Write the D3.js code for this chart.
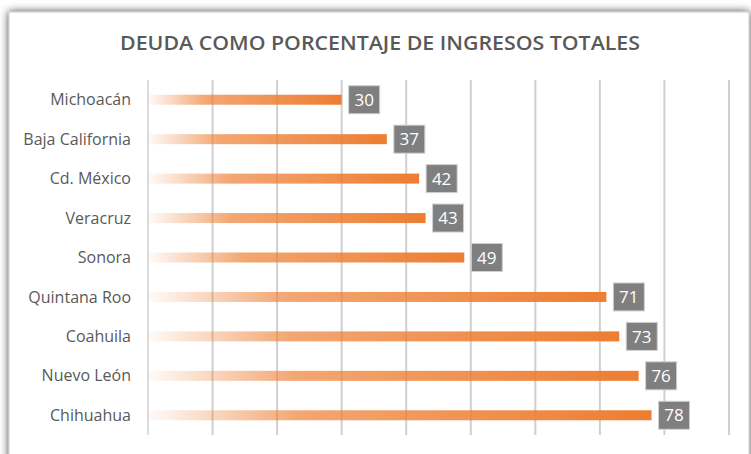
<!DOCTYPE html>
<html>
	<head>
		<title>Deuda como porcentaje de ingresos totales</title>
		<script src="https://cdn.jsdelivr.net/npm/d3@7"></script>
		<style type="text/css">
			body {
				margin: 0;
				background: #fff;
			}
			svg {
				display: block;
			}
		</style>
	</head>
	<body>
		<script type="text/javascript">
			// data
			var estados = ["Michoacán", "Baja California", "Cd. México", "Veracruz", "Sonora",
				"Quintana Roo", "Coahuila", "Nuevo León", "Chihuahua"];
			var deuda = [30, 37, 42, 43, 49, 71, 73, 76, 78];
			var ticks = [0, 10, 20, 30, 40, 50, 60, 70, 80, 90];
			var titulo = "DEUDA COMO PORCENTAJE DE INGRESOS TOTALES";

			var w = 751;
			var h = 454;
			var font = "'Open Sans', 'DejaVu Sans', sans-serif";

			var svg = d3.select("body")
				.append("svg")
					.attr("width", w)
					.attr("height", h);

			var defs = svg.append("defs");

			var shadow = defs.append("filter")
				.attr("id", "sombra")
				.attr("x", "-5%").attr("y", "-5%")
				.attr("width", "110%").attr("height", "110%");
			shadow.append("feGaussianBlur")
				.attr("in", "SourceAlpha")
				.attr("stdDeviation", 4.5);
			shadow.append("feComponentTransfer")
				.append("feFuncA").attr("type", "linear").attr("slope", 0.75);
			var merge = shadow.append("feMerge");
			merge.append("feMergeNode");
			merge.append("feMergeNode").attr("in", "SourceGraphic");

			var grad = defs.append("linearGradient")
				.attr("id", "barra")
				.attr("x1", "0%").attr("x2", "100%")
				.attr("y1", "0%").attr("y2", "0%");
			grad.append("stop").attr("offset", "0%").attr("stop-color", "#ed7d31").attr("stop-opacity", 0.03);
			grad.append("stop").attr("offset", "30%").attr("stop-color", "#ed7d31").attr("stop-opacity", 0.68);
			grad.append("stop").attr("offset", "100%").attr("stop-color", "#ed7d31").attr("stop-opacity", 1);

			// chart area with its shadow
			svg.append("rect")
				.attr("x", 9)
				.attr("y", 12)
				.attr("width", 740)
				.attr("height", 470)
				.attr("fill", "#fff")
				.attr("stroke", "#c8c8c8")
				.attr("stroke-width", 1)
				.attr("filter", "url(#sombra)");

			svg.append("text")
				.attr("x", 380)
				.attr("y", 50)
				.attr("text-anchor", "middle")
				.attr("fill", "#595959")
				.attr("font-family", font)
				.attr("font-size", 20.5)
				.attr("font-weight", 600)
				.attr("textLength", 520)
				.attr("lengthAdjust", "spacingAndGlyphs")
				.text(titulo);

			var x = d3.scaleLinear()
				.domain([0, 90])
				.range([148, 729]);

			var y = d3.scaleBand()
				.domain(estados)
				.range([80, 435]);

			var chart = svg.append("g");

			chart.selectAll("line.grid")
				.data(ticks)
				.enter().append("line")
					.attr("class", "grid")
					.attr("x1", function (d) { return x(d); })
					.attr("x2", function (d) { return x(d); })
					.attr("y1", 80)
					.attr("y2", 435)
					.attr("stroke", function (d) { return d == 0 ? "#dcdcdc" : "#cfcfcf"; })
					.attr("stroke-width", 2);

			var data = estados.map(function (e, i) {
				return {estado: e, valor: deuda[i]};
			});

			chart.selectAll("rect.bar")
				.data(data)
				.enter().append("rect")
					.attr("class", "bar")
					.attr("x", x(0))
					.attr("y", function (d) { return y(d.estado) + y.bandwidth() / 2 - 5; })
					.attr("width", function (d) { return x(d.valor) - x(0); })
					.attr("height", 10)
					.attr("fill", "url(#barra)");

			// category labels
			chart.selectAll("text.cat")
				.data(data)
				.enter().append("text")
					.attr("class", "cat")
					.attr("x", 131)
					.attr("y", function (d) { return y(d.estado) + y.bandwidth() / 2; })
					.attr("dy", "0.35em")
					.attr("text-anchor", "end")
					.attr("fill", "#595959")
					.attr("font-family", font)
					.attr("font-size", 16)
					.text(function (d) { return d.estado; });

			// value boxes
			var etiquetas = chart.selectAll("g.valor")
				.data(data)
				.enter().append("g")
					.attr("class", "valor")
					.attr("transform", function (d) {
						return "translate(" + [x(d.valor) + 7, y(d.estado) + y.bandwidth() / 2] + ")";
					});

			etiquetas.append("rect")
				.attr("x", 0)
				.attr("y", -14)
				.attr("width", 31)
				.attr("height", 28)
				.attr("fill", "#7f7f7f")
				.attr("stroke", "#d0d0d0")
				.attr("stroke-width", 1);

			etiquetas.append("text")
				.attr("x", 15.5)
				.attr("y", 0)
				.attr("dy", "0.36em")
				.attr("text-anchor", "middle")
				.attr("fill", "#fff")
				.attr("font-family", font)
				.attr("font-size", 17)
				.text(function (d) { return d.valor; });
		</script>
	</body>
</html>
